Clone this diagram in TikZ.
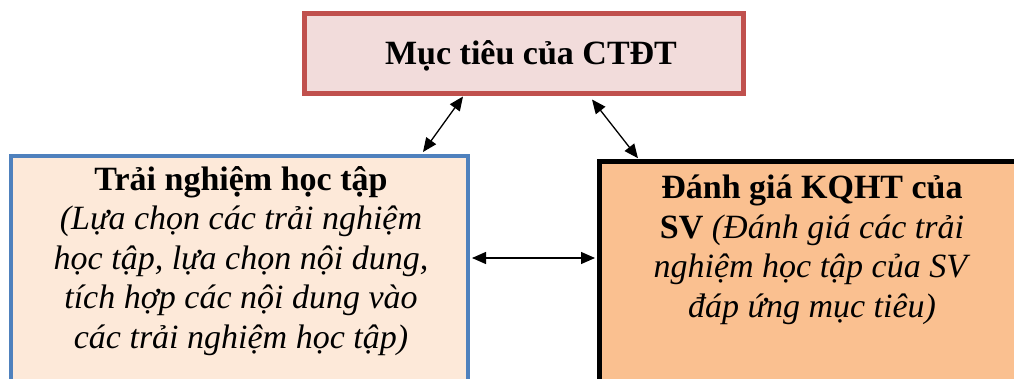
\documentclass[tikz,border=0pt]{standalone}
\usepackage{fontspec}
\setmainfont{Liberation Serif}
\usetikzlibrary{arrows.meta,calc}

\definecolor{goalfill}{HTML}{F2DCDB}
\definecolor{goalline}{HTML}{C0504D}
\definecolor{learnfill}{HTML}{FDE9D9}
\definecolor{learnline}{HTML}{4F81BD}
\definecolor{assessfill}{HTML}{FAC090}

\tikzset{
  panel/.style={rectangle, inner sep=0pt, outer sep=0pt},
  % multi-line nodes: the base anchor sits on the last line's baseline
  boxtext/.style={align=center, inner sep=0pt, anchor=base,
    font=\fontsize{34}{39.5}\selectfont},
  link/.style={line width=1.3pt, {Triangle[length=14pt,width=12pt]}-{Triangle[length=14pt,width=12pt]}}
}

\begin{document}
\begin{tikzpicture}[x=1pt,y=1pt]
\useasboundingbox (0,0) rectangle (1014,378);

% three boxes
\node[panel, draw=goalline, fill=goalfill, line width=5pt,
      minimum width=439pt, minimum height=80pt] (goal) at (524,324.5) {};
\node[panel, draw=learnline, fill=learnfill, line width=4pt,
      minimum width=457pt, minimum height=236pt] (learn) at (239.5,104) {};
\node[panel, draw=black, fill=assessfill, line width=5pt,
      minimum width=430.5pt, minimum height=233.5pt] (assess) at (814.75,100) {};

% box texts
\node[boxtext] (goaltext) at (531,313) {\textbf{Mục tiêu của CTĐT}};
\node[boxtext] (learntext) at (241,30) {\textbf{Trải nghiệm học tập}\\
  \textit{(Lựa chọn các trải nghiệm}\\
  \textit{học tập, lựa chọn nội dung,}\\
  \textit{tích hợp các nội dung vào}\\
  \textit{các trải nghiệm học tập)}};
\node[boxtext] (assesstext) at (812,61) {\textbf{Đánh giá KQHT của}\\
  \textbf{SV} \textit{(Đánh giá các trải}\\
  \textit{nghiệm học tập của SV}\\
  \textit{đáp ứng mục tiêu)}};

% two-way links between the boxes
\draw[link] ([xshift=-61pt,yshift=-3pt]goal.south) -- ([xshift=-45pt,yshift=4pt]learn.north east);
\draw[link] ([xshift=68pt,yshift=-6pt]goal.south) -- ([xshift=38.5pt,yshift=3pt]assess.north west);
\draw[link] ([xshift=4pt]learn.east |- 0,120) -- ([xshift=-4.5pt]assess.west |- 0,120);
\end{tikzpicture}
\end{document}
